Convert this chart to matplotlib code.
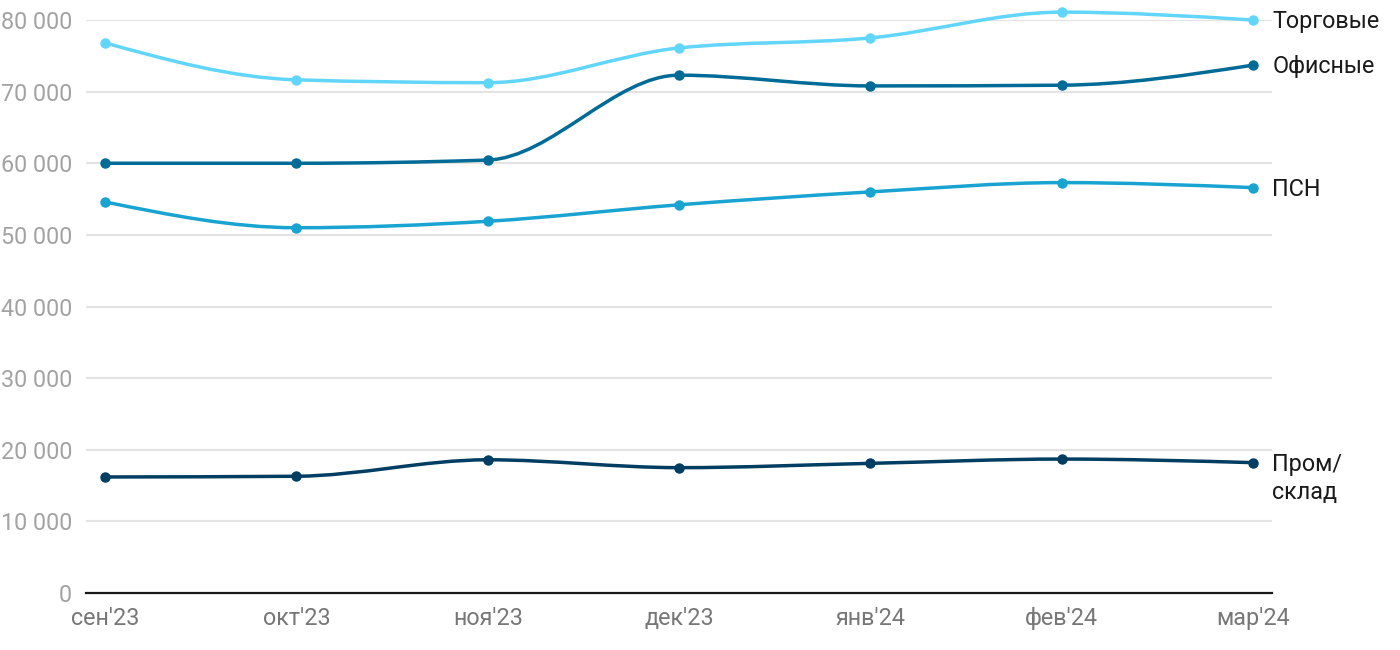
import numpy as np
import matplotlib.pyplot as plt
from matplotlib.path import Path
from matplotlib.patches import PathPatch

plt.rcParams['font.family'] = ['Roboto', 'DejaVu Sans']

months = ["сен'23", "окт'23", "ноя'23", "дек'23", "янв'24", "фев'24", "мар'24"]
torgovye = [76800, 71650, 71250, 76100, 77500, 81100, 80000]
ofisnye = [60000, 60000, 60450, 72300, 70800, 70900, 73700]
psn = [54600, 51000, 51900, 54200, 56000, 57300, 56600]
prom = [16200, 16300, 18600, 17500, 18100, 18700, 18200]

series = [
    ("Торговые", torgovye, "#62d5fb"),
    ("Офисные", ofisnye, "#006b96"),
    ("ПСН", psn, "#18a3d1"),
    ("Пром/\nсклад", prom, "#003d62"),
]


def monotone_path(x, y):
    # same smoothing as d3 curveMonotoneX, drawn as cubic beziers
    x = np.asarray(x, float)
    y = np.asarray(y, float)
    n = len(x)
    h = np.diff(x)
    s = np.diff(y) / h
    t = np.zeros(n)
    for i in range(1, n - 1):
        p = (s[i - 1] * h[i] + s[i] * h[i - 1]) / (h[i - 1] + h[i])
        t[i] = (np.sign(s[i - 1]) + np.sign(s[i])) * min(abs(s[i - 1]), abs(s[i]), 0.5 * abs(p))
    t[0] = (3 * s[0] - t[1]) / 2
    t[-1] = (3 * s[-1] - t[-2]) / 2
    verts = [(x[0], y[0])]
    codes = [Path.MOVETO]
    for i in range(n - 1):
        dx = h[i] / 3
        verts += [(x[i] + dx, y[i] + dx * t[i]), (x[i + 1] - dx, y[i + 1] - dx * t[i + 1]), (x[i + 1], y[i + 1])]
        codes += [Path.CURVE4] * 3
    return Path(verts, codes)


fig = plt.figure(figsize=(14, 6.5), dpi=100)
ax = fig.add_axes([0.0614, 0.0877, 0.8472, 0.8815])

xs = np.arange(len(months))
for name, vals, color in series:
    ax.add_patch(PathPatch(monotone_path(xs, vals), facecolor='none', edgecolor=color,
                           lw=2.5, clip_on=False, zorder=3, capstyle='round'))
    ax.plot(xs, vals, 'o', color=color, ms=6.5, clip_on=False, zorder=4)
    ax.annotate(name, (xs[-1], vals[-1]), xytext=(14, 7), textcoords='offset points',
                ha='left', va='top', fontsize=16.8, color='#1a1a1a', linespacing=1.3,
                annotation_clip=False)

ax.set_xlim(-0.1, 6.1)
ax.set_ylim(0, 80000)
ax.set_yticks(np.arange(0, 80001, 10000))
ax.set_yticklabels([f"{v:,}".replace(",", " ") for v in range(0, 80001, 10000)])
ax.set_xticks(xs)
ax.set_xticklabels(months)

ax.grid(axis='y', color='#e3e3e3', lw=1.5)
ax.set_axisbelow(True)
for side in ['top', 'right', 'left']:
    ax.spines[side].set_visible(False)
ax.spines['bottom'].set_color('#1a1a1a')
ax.spines['bottom'].set_linewidth(1.6)
ax.spines['bottom'].set_zorder(5)

ax.tick_params(axis='y', length=0, pad=10, labelsize=16.8, labelcolor='#a3a3a3')
ax.tick_params(axis='x', length=0, pad=10, labelsize=16.8, labelcolor='#777777')

fig.savefig('out.png', dpi=100, facecolor='white')
